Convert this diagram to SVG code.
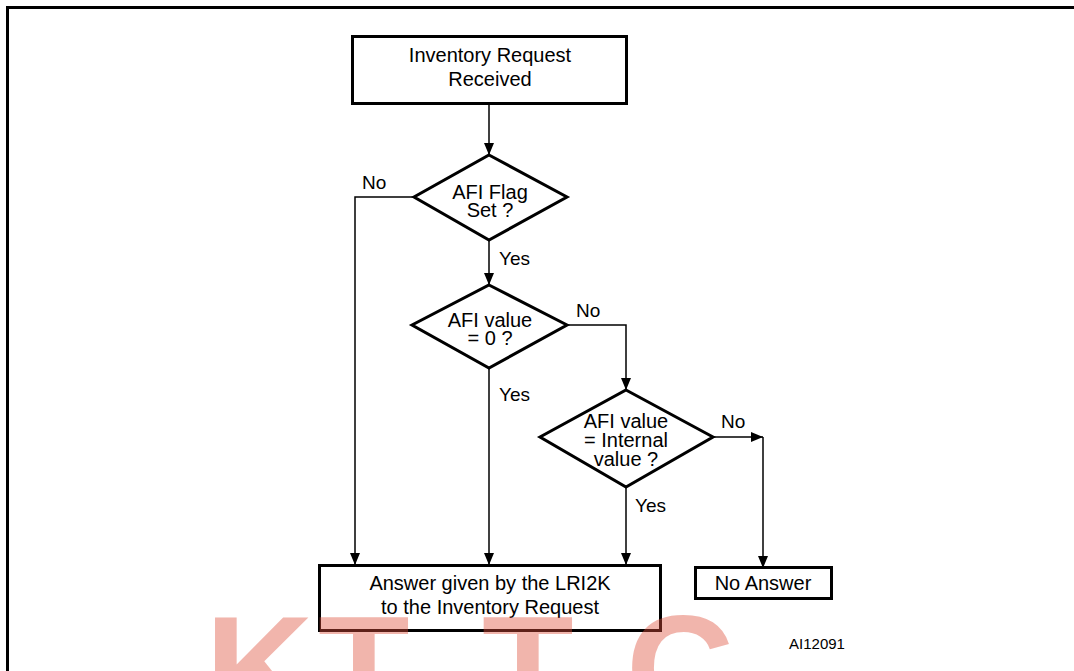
<svg xmlns="http://www.w3.org/2000/svg" width="1074" height="671" viewBox="0 0 1074 671">
<defs>
<marker id="ah" viewBox="0 0 12 10" refX="12" refY="5" markerWidth="12" markerHeight="10" markerUnits="userSpaceOnUse" orient="auto">
<path d="M0,0 L12,5 L0,10 Z" fill="#000"/>
</marker>
</defs>
<style>
.box{fill:#fff;stroke:#000;stroke-width:3}
.t{font-family:"Liberation Sans",Arial,sans-serif;font-size:20px;fill:#000;text-anchor:middle}
.l{font-family:"Liberation Sans",Arial,sans-serif;font-size:19px;fill:#000}
.c{fill:none;stroke:#000;stroke-width:1.5}
.wm{font-family:"Liberation Sans",Arial,sans-serif;font-weight:bold;font-size:150px;fill:#e0503c;opacity:0.42}
</style>
<rect width="1074" height="671" fill="#fff"/>
<path d="M6,7.5 H1074 M7.5,6 V671" fill="none" stroke="#000" stroke-width="3"/>

<g id="connectors">
<path class="c" d="M489,103 V155" marker-end="url(#ah)"/>
<path class="c" d="M414,197 H355 V565" marker-end="url(#ah)"/>
<path class="c" d="M489,240 V285" marker-end="url(#ah)"/>
<path class="c" d="M567,325 H626 V390" marker-end="url(#ah)"/>
<path class="c" d="M489,368 V565" marker-end="url(#ah)"/>
<path class="c" d="M713,437 H763" marker-end="url(#ah)"/>
<path class="c" d="M763,437 V568" marker-end="url(#ah)"/>
<path class="c" d="M626,487 V565" marker-end="url(#ah)"/>
<text class="l" x="362" y="189">No</text>
<text class="l" x="499" y="265">Yes</text>
<text class="l" x="576" y="317">No</text>
<text class="l" x="499" y="401">Yes</text>
<text class="l" x="721" y="428">No</text>
<text class="l" x="635" y="512">Yes</text>
</g>

<g id="start">
<rect class="box" x="352.5" y="36.5" width="274" height="67"/>
<text class="t" x="490" y="62">Inventory Request</text>
<text class="t" x="490" y="86">Received</text>
</g>

<g id="afi-flag">
<path class="box" d="M489,155 L567,197 L489,240 L414,197 Z"/>
<text class="t" x="490" y="199">AFI Flag</text>
<text class="t" x="490" y="217">Set ?</text>
</g>

<g id="afi-zero">
<path class="box" d="M489,285 L567,325 L489,368 L412,325 Z"/>
<text class="t" x="490" y="327">AFI value</text>
<text class="t" x="490" y="345">= 0 ?</text>
</g>

<g id="afi-internal">
<path class="box" d="M626,390 L713,437 L626,487 L540,437 Z"/>
<text class="t" x="626" y="428">AFI value</text>
<text class="t" x="626" y="447">= Internal</text>
<text class="t" x="626" y="466">value ?</text>
</g>

<g id="answer">
<rect class="box" x="319.5" y="565.5" width="341" height="65"/>
<text class="t" x="490" y="590">Answer given by the LRI2K</text>
<text class="t" x="490" y="614">to the Inventory Request</text>
</g>

<g id="no-answer">
<rect class="box" x="695.5" y="567.5" width="136" height="31"/>
<text class="t" x="763" y="590">No Answer</text>
</g>

<text x="817" y="649" style="font-family:'Liberation Sans',Arial,sans-serif;font-size:15px;fill:#000;text-anchor:middle">AI12091</text>

<g id="watermark">
<text class="wm" x="205" y="721">K</text>
<text class="wm" x="318" y="721">T</text>
<text class="wm" x="482" y="721">T</text>
<text class="wm" x="626" y="721">C</text>
</g>
</svg>
